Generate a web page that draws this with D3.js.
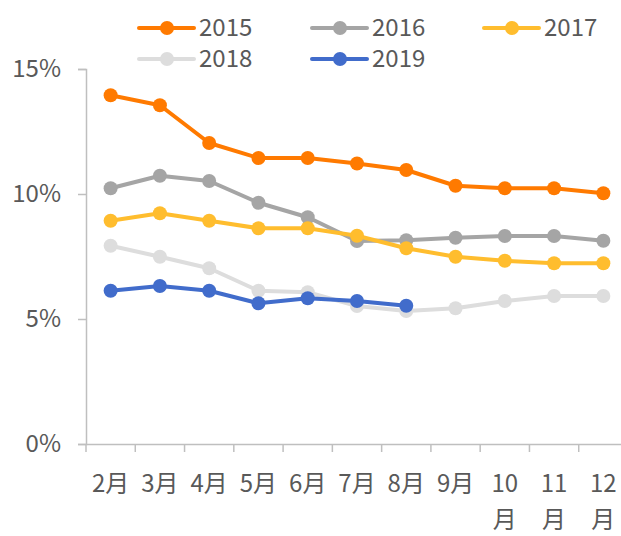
<!DOCTYPE html>
<html>
<head>
<meta charset="utf-8">
<script src="https://cdn.jsdelivr.net/npm/d3@7"></script>
<style>
body{margin:0;background:#fff;}
text{font-family:"Noto Sans CJK SC","Noto Sans",sans-serif;fill:#595959;}
</style>
</head>
<body>
<svg id="chart" width="621" height="536"></svg>
<script>
var months=["2月","3月","4月","5月","6月","7月","8月","9月","10月","11月","12月"];
var years=["2015","2016","2017","2018","2019"];
var colors=["#FF7A00","#A5A5A5","#FFBD2E","#DDDDDD","#416CCB"];
var v2015=[13.95,13.55,12.04,11.44,11.44,11.22,10.96,10.33,10.23,10.23,10.03];
var v2016=[10.23,10.73,10.52,9.65,9.07,8.12,8.15,8.25,8.32,8.32,8.13];
var v2017=[8.93,9.23,8.93,8.63,8.63,8.33,7.83,7.49,7.33,7.23,7.23];
var v2018=[7.93,7.49,7.03,6.13,6.07,5.52,5.32,5.43,5.72,5.92,5.92];
var v2019=[6.13,6.32,6.13,5.63,5.83,5.72,5.53];
var yTicks=[0,5,10,15];

var series=[v2015,v2016,v2017,v2018,v2019];
var svg=d3.select("#chart");

var x=d3.scaleBand().domain(months).range([86,628]);
var y=d3.scaleLinear().domain([0,15]).range([444,69]);

// axes
var yAxis=svg.append("g").attr("transform","translate(86,0)")
	.call(d3.axisLeft(y).tickValues(yTicks).tickSize(8).tickPadding(17).tickFormat(function(d){return d+"%";}));
yAxis.select(".domain").attr("stroke","#BFBFBF").attr("stroke-width",1.5);
yAxis.selectAll(".tick line").attr("stroke","#BFBFBF").attr("stroke-width",1.5);
yAxis.selectAll("text").style("font-size","24px").attr("fill","#595959");

var xAxis=svg.append("g").attr("transform","translate(0,444)")
	.call(d3.axisBottom(x).tickSize(8).tickSizeOuter(0).tickFormat(""));
xAxis.select(".domain").attr("stroke","#BFBFBF").attr("stroke-width",1.5);
xAxis.selectAll(".tick line").attr("stroke","#BFBFBF").attr("stroke-width",1.5)
	.attr("transform","translate("+(-x.bandwidth()/2)+",0)");

// category labels, wrap the long ones
var lbl=svg.append("g").selectAll("text").data(months).enter().append("text")
	.attr("x",function(d){return x(d)+x.bandwidth()/2;})
	.attr("y",492)
	.attr("text-anchor","middle")
	.style("font-size","24px");
lbl.each(function(d){
	var t=d3.select(this);
	if(d.length>2){
		t.append("tspan").attr("x",t.attr("x")).text(d.slice(0,d.length-1));
		t.append("tspan").attr("x",t.attr("x")).attr("dy",36).text("月");
	}else{t.text(d);}
});

// lines
var line=d3.line()
	.x(function(d,i){return x(months[i])+x.bandwidth()/2;})
	.y(function(d){return y(d);});

series.forEach(function(s,k){
	var g=svg.append("g");
	g.append("path").datum(s).attr("d",line)
		.attr("fill","none").attr("stroke",colors[k]).attr("stroke-width",4).attr("stroke-linejoin","round");
	g.selectAll("circle").data(s).enter().append("circle")
		.attr("cx",function(d,i){return x(months[i])+x.bandwidth()/2;})
		.attr("cy",function(d){return y(d);})
		.attr("r",7).attr("fill",colors[k]);
});

// legend
var legPos=[[139,28],[312,28],[484,28],[139,59],[312,59]];
var leg=svg.append("g").selectAll("g").data(years).enter().append("g")
	.attr("transform",function(d,i){return "translate("+legPos[i][0]+","+legPos[i][1]+")";});
leg.append("line").attr("x1",0).attr("x2",55).attr("y1",0).attr("y2",0)
	.attr("stroke",function(d,i){return colors[i];}).attr("stroke-width",4).attr("stroke-linecap","round");
leg.append("circle").attr("cx",28).attr("cy",0).attr("r",7).attr("fill",function(d,i){return colors[i];});
leg.append("text").attr("x",60).attr("y",0).attr("dy","0.35em").style("font-size","24px").text(function(d){return d;});
</script>
</body>
</html>
